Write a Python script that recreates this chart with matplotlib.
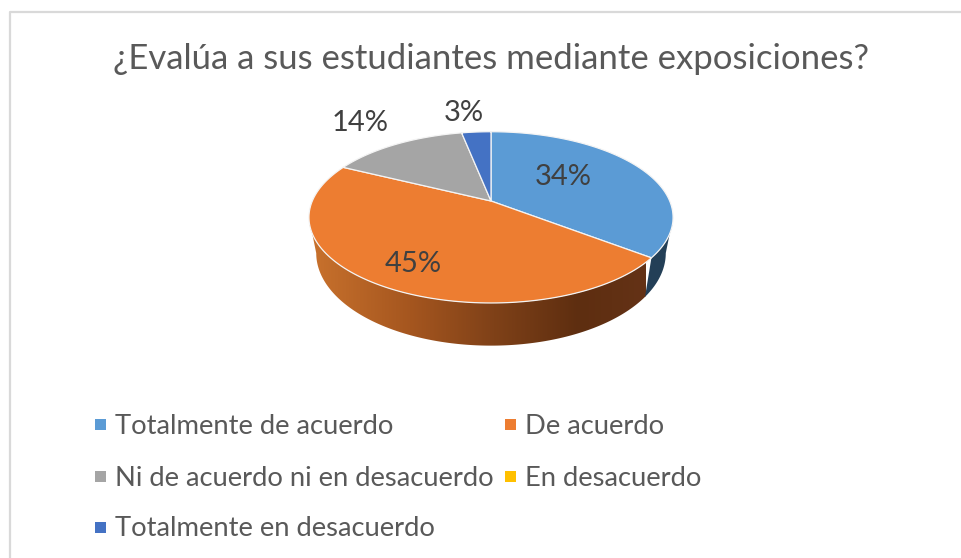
import numpy as np
import matplotlib
matplotlib.use("Agg")
import matplotlib.pyplot as plt
from matplotlib.colors import LinearSegmentedColormap
from matplotlib.patches import Polygon, Rectangle

plt.rcParams["font.family"] = ["Lato", "DejaVu Sans"]

TITLE = "¿Evalúa a sus estudiantes mediante exposiciones?"
categories = ["Totalmente de acuerdo", "De acuerdo",
              "Ni de acuerdo ni en desacuerdo", "En desacuerdo",
              "Totalmente en desacuerdo"]
values = [34, 45, 14, 0, 3]
colors = ["#5b9bd5", "#ed7d31", "#a5a5a5", "#ffc000", "#4472c4"]

# pixel positions of the labels and legend entries
label_pos = [(563, 177), (413, 264), (360, 123), None, (464, 113)]
legend_pos = [(95, 424), (505, 424), (95, 476), (505, 476), (95, 527)]

# perspective of the tilted pie, in pixels
CX, CY = 491, 201
A, C, K = 82.5, 178.7, 0.191


def project(theta, bottom=False):
    # theta clockwise from the top of the pie
    x, y = np.sin(theta), np.cos(theta)
    u = C * x / (1 + K * y)
    v = A * y / (1 + K * y)
    if bottom:
        u = u * 0.96
        v = v * 1.08 - 34.5
    return CX + u, CY - v


fig = plt.figure(figsize=(9.61, 5.58), dpi=100)
ax = fig.add_axes([0, 0, 1, 1])
ax.axis("off")

# chart frame, only top and left are in the crop
ax.plot([10, 10, 961], [558, 11.5, 11.5], color="#d9d9d9", lw=1.6)

ax.text(491, 59, TITLE, ha="center", va="center", fontsize=25, color="#595959")

frac = np.array(values, dtype=float) / sum(values)
edges = np.concatenate([[0], np.cumsum(frac)]) * 2 * np.pi

# side wall
start = np.arccos(-K)
end = 2 * np.pi - start
t = np.linspace(start, end, 300)
xt, yt = project(t)
xb, yb = project(t, bottom=True)
wall = Polygon(np.r_[np.c_[xt, yt], np.c_[xb, yb][::-1]], closed=True,
               facecolor="none", edgecolor="none")
ax.add_patch(wall)
wall_cmap = LinearSegmentedColormap.from_list(
    "wall", [(0.0, "#c9722d"), (0.3, "#a5561f"), (0.55, "#7f4118"),
             (0.8, "#5e2e10"), (1.0, "#643216")])
x0, _ = project(edges[1], bottom=True)
grad = np.linspace(0, 1, 256).reshape(1, -1)
img = ax.imshow(grad, cmap=wall_cmap, extent=[309, x0, 350, 200],
                aspect="auto", zorder=1)
img.set_clip_path(wall)
ax.set_xlim(0, 961)
ax.set_ylim(558, 0)

t2 = np.linspace(start, edges[1], 60)
xt2, yt2 = project(t2)
xb2, yb2 = project(t2, bottom=True)
ax.add_patch(Polygon(np.r_[np.c_[xt2, yt2], np.c_[xb2, yb2][::-1]], closed=True,
                     facecolor="#233f57", edgecolor="none", zorder=1.5))

# top of the pie
for i, col in enumerate(colors):
    if values[i] == 0:
        continue
    t = np.linspace(edges[i], edges[i + 1], 120)
    x, y = project(t)
    pts = np.r_[[[CX, CY]], np.c_[x, y]]
    ax.add_patch(Polygon(pts, closed=True, facecolor=col, edgecolor="#f4f4f4",
                         lw=0.9, zorder=2))

for v, pos in zip(values, label_pos):
    if pos is None:
        continue
    ax.text(pos[0], pos[1], f"{v}%", ha="center", va="center", fontsize=21,
            color="#404040", zorder=3)

for name, col, (lx, ly) in zip(categories, colors, legend_pos):
    ax.add_patch(Rectangle((lx, ly - 5.5), 11, 11, facecolor=col, edgecolor="none"))
    ax.text(lx + 20, ly + 2, name, ha="left", va="center", fontsize=19.7, color="#595959")

fig.savefig("out.png", dpi=100)
